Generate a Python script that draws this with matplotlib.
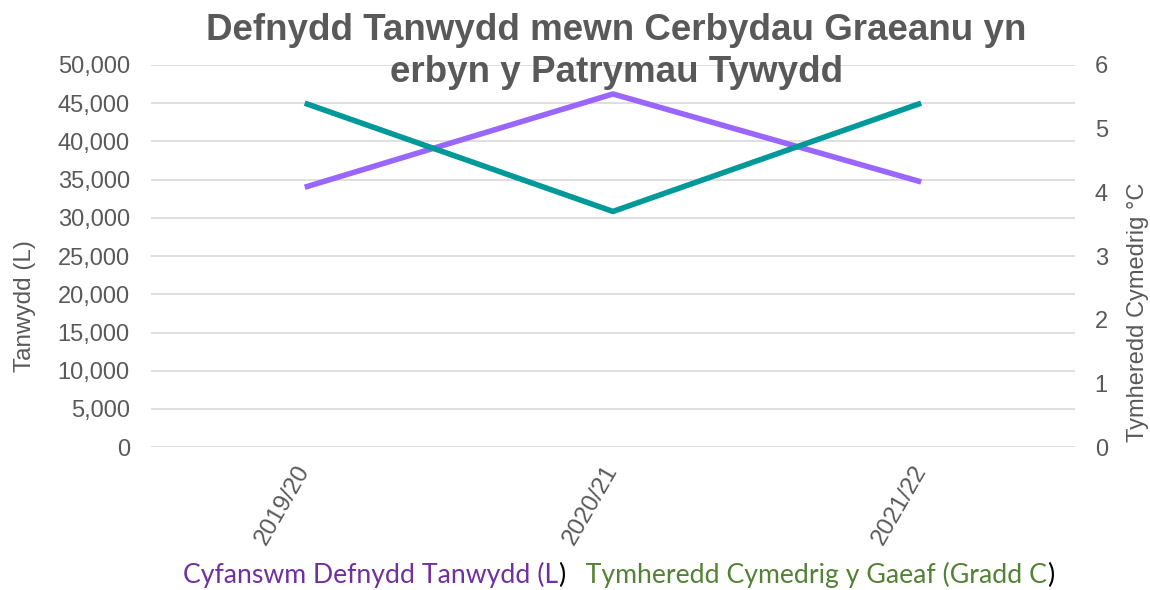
import matplotlib.pyplot as plt
import matplotlib.ticker as mticker

# data
categories = ['2019/20', '2020/21', '2021/22']
fuel_litres = [34000, 46200, 34700]
winter_temp = [5.4, 3.7, 5.4]
left_ticks = [0, 5000, 10000, 15000, 20000, 25000, 30000, 35000, 40000, 45000, 50000]
right_ticks = [0, 1, 2, 3, 4, 5, 6]

plt.rcParams['font.family'] = ['Liberation Sans', 'DejaVu Sans']

grey = '#595959'
fig = plt.figure(figsize=(11.5, 5.9), dpi=100)
ax = fig.add_axes([0.131, 0.242, 0.804, 0.648])
ax2 = ax.twinx()

x = range(len(categories))
ax.plot(x, fuel_litres, color='#9966FF', lw=4, solid_capstyle='butt', zorder=3)
ax2.plot(x, winter_temp, color='#009999', lw=4, solid_capstyle='butt', zorder=3)

ax.set_xlim(-0.5, 2.5)
ax.set_ylim(0, 50000)
ax2.set_ylim(0, 6)
ax.set_yticks(left_ticks)
ax2.set_yticks(right_ticks)
ax.yaxis.set_major_formatter(mticker.FuncFormatter(lambda v, p: '{:,.0f}'.format(v)))
ax.set_xticks(list(x))
ax.set_xticklabels(categories, rotation=60, ha='right', va='center', rotation_mode='anchor',
                   fontsize=17.5)

ax.grid(axis='y', color='#D9D9D9', lw=1.2)
ax.set_axisbelow(True)
for a in (ax, ax2):
    for s in a.spines.values():
        s.set_visible(False)
    a.tick_params(axis='y', length=0, labelsize=17, colors=grey)
ax.tick_params(axis='x', length=0, colors=grey, pad=14)
ax.tick_params(axis='y', pad=15)
ax2.tick_params(axis='y', pad=14)

ax.set_ylabel('Tanwydd (L)', fontsize=17.5, color=grey)
ax.yaxis.set_label_coords(-0.1245, 0.369)
ax2.set_ylabel('Tymheredd Cymedrig °C', fontsize=17, color=grey)
ax2.yaxis.set_label_coords(1.056, 0.353)

fig.text(0.536, 0.978, 'Defnydd Tanwydd mewn Cerbydau Graeanu yn\nerbyn y Patrymau Tywydd',
         ha='center', va='top', fontsize=26.5, fontweight='bold', color=grey,
         linespacing=1.27)

# legend as coloured text
leg_font = ['Lato', 'DejaVu Sans']
pieces = [('Cyfanswm Defnydd Tanwydd (L', '#7030A0'), (')', 'black'),
          ('   Tymheredd Cymedrig y Gaeaf (Gradd C', '#548235'), (')', 'black')]
t = fig.text(0.159, 0.012, pieces[0][0], color=pieces[0][1], fontsize=19.2,
             family=leg_font, ha='left', va='baseline')
for txt, col in pieces[1:]:
    t = ax.annotate(txt, xy=(1, 0), xycoords=t, color=col, fontsize=19.2,
                    family=leg_font, ha='left', va='bottom', annotation_clip=False)

fig.savefig('out.png', dpi=100)
